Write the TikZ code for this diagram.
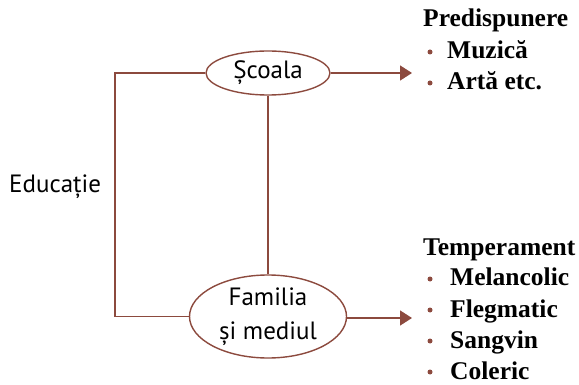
\documentclass[tikz,border=0pt]{standalone}
\usepackage{fontspec}
\setmainfont{Liberation Serif}
\newfontfamily\sansf{PT Sans}
\usetikzlibrary{shapes.geometric,arrows.meta}
\definecolor{brn}{RGB}{140,74,62}
\tikzset{
  conn/.style={draw=brn,line width=1.4pt},
  arr/.style={conn,-{Triangle[length=12pt,width=15pt]}},
  oval/.style={ellipse,draw=brn,line width=1.4pt,inner sep=0pt,font=\sansf\fontsize{25}{34}\selectfont,align=center},
  lbl/.style={anchor=base west,inner sep=0pt,font=\bfseries\fontsize{25.5}{28}\selectfont},
  bul/.style={circle,fill=brn,inner sep=0pt,minimum size=5pt},
}
\begin{document}
\begin{tikzpicture}[x=1pt,y=-1pt]
\useasboundingbox (0,0) rectangle (579,385);
\node[oval,minimum width=124pt,minimum height=44pt] (s) at (268,73) {Școala};
\node[oval,minimum width=157pt,minimum height=83pt] (f) at (268,316.5) {Familia\\și mediul};
\node[anchor=base west,inner sep=0pt,font=\sansf\fontsize{25}{28}\selectfont] (e) at (9,193) {Educație};
\coordinate (c1) at (115,73);
\coordinate (c2) at (115,316.5);
\coordinate (a1) at (412,73);
\coordinate (a2) at (412,318);
\draw[conn] (s.west) -- (c1) -- (c2) -- (f.west);
\draw[conn] (s.south) -- (f.north);
\draw[arr] (s.east) -- (a1);
\draw[arr] (f.east |- a2) -- (a2);
\node[lbl] (p) at (423,27) {Predispunere};
\node[lbl] (m) at (447,59) {Muzică};
\node[lbl] (ar) at (447,90) {Artă etc.};
\node[bul] (bm) at (430,52) {};
\node[bul] (ba) at (430,83) {};
\node[lbl] (t) at (423,255) {Temperament};
\node[lbl] (me) at (450,286) {Melancolic};
\node[lbl] (fl) at (450,317) {Flegmatic};
\node[lbl] (sa) at (450,348) {Sangvin};
\node[lbl] (co) at (450,379) {Coleric};
\node[bul] (b1) at (430,279) {};
\node[bul] (b2) at (430,310) {};
\node[bul] (b3) at (430,341) {};
\node[bul] (b4) at (430,372) {};
\end{tikzpicture}
\end{document}
